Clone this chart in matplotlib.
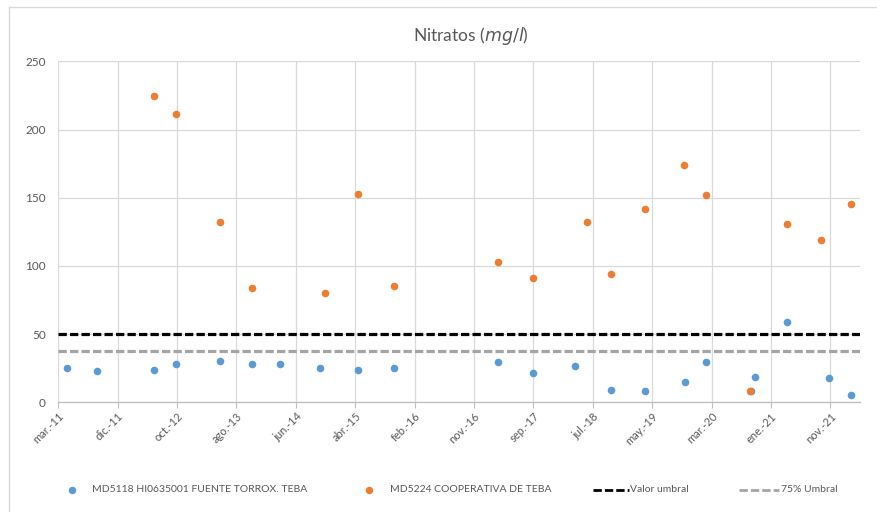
import matplotlib
matplotlib.use("Agg")
import matplotlib.pyplot as plt
import matplotlib.dates as mdates
from matplotlib.lines import Line2D
import numpy as np
import datetime as dt

plt.rcParams['font.family'] = ['Lato', 'DejaVu Sans']

# ---- data ----
blue_dates = ["2011-04-12", "2011-09-12", "2012-06-25", "2012-10-17", "2013-05-27",
              "2013-11-05", "2014-03-26", "2014-10-14", "2015-04-21", "2015-10-21",
              "2017-03-30", "2017-09-23", "2018-04-25", "2018-10-24", "2019-04-10",
              "2019-10-31", "2020-02-14", "2020-09-28", "2020-10-20", "2021-03-27",
              "2021-10-28", "2022-02-17"]
blue_values = [25, 23.2, 24, 28.1, 30.1, 28.1, 28.1, 24.9, 23.7, 24.9,
               29.6, 21.5, 26.4, 8.8, 8.3, 15.2, 29.6, 8.3, 18.6, 59.1,
               17.6, 5.6]

orange_dates = ["2012-06-25", "2012-10-17", "2013-05-27", "2013-11-05", "2014-11-07",
                "2015-04-21", "2015-10-21", "2017-03-30", "2017-09-23", "2018-06-21",
                "2018-10-24", "2019-04-10", "2019-10-26", "2020-02-14", "2020-09-25",
                "2021-03-27", "2021-09-18", "2022-02-17"]
orange_values = [224.8, 211.6, 132, 84.1, 80.2, 153, 85, 103.1, 91.2, 132.2,
                 94.1, 142, 174, 152, 8.1, 131, 119.3, 145.2]

threshold = 50
threshold_75 = 37.5

tick_labels = ["mar.-11", "dic.-11", "oct.-12", "ago.-13", "jun.-14", "abr.-15",
               "feb.-16", "nov.-16", "sep.-17", "jul.-18", "may.-19", "mar.-20",
               "ene.-21", "nov.-21"]
axis_start = "2011-03-01"
axis_end = "2022-04-02"
tick_step_days = 300

series_names = ["MD5118 HI0635001 FUENTE TORROX. TEBA", "MD5224 COOPERATIVA DE TEBA",
                "Valor umbral", "75% Umbral"]

# ---- figure ----
W, H = 878, 512
fig = plt.figure(figsize=(W/100, H/100), dpi=100)
ax = fig.add_axes([58.3/W, 1-402.3/H, (860-58.3)/W, (402.3-61.3)/H])

to_num = lambda lst: mdates.date2num([dt.datetime.strptime(d, "%Y-%m-%d") for d in lst])
bx = to_num(blue_dates)
ox = to_num(orange_dates)
x0 = to_num([axis_start])[0]
x1 = to_num([axis_end])[0]

blue = '#5B9BD5'
orange = '#ED7D31'
grey = '#A5A5A5'
DASH = (2.6, 1.0)

ax.scatter(bx, blue_values, s=30, color=blue, zorder=3, linewidths=0)
ax.scatter(ox, orange_values, s=30, color=orange, zorder=4, linewidths=0)
ax.axhline(threshold, color='black', lw=2.3, dashes=DASH, zorder=2)
ax.axhline(threshold_75, color=grey, lw=2.3, dashes=DASH, zorder=2)

ticks = x0 + np.arange(len(tick_labels)) * tick_step_days
ax.set_xlim(x0, x1)
ax.set_ylim(0, 250)
ax.set_xticks(ticks)
ax.set_xticklabels(tick_labels, rotation=45, ha='right', rotation_mode='anchor')
ax.set_yticks(np.arange(0, 251, 50))

ax.grid(True, color='#D9D9D9', lw=0.9)
ax.set_axisbelow(True)
for s in ['top', 'right', 'left']:
    ax.spines[s].set_visible(False)
ax.spines['bottom'].set_color('#BFBFBF')
ax.spines['bottom'].set_linewidth(0.9)
ax.tick_params(axis='x', colors='#595959', labelsize=8, length=4, color='#BFBFBF', pad=2)
ax.tick_params(axis='y', colors='#595959', labelsize=8.5, length=0, pad=9)

fig.text(471/W, 1-36/H, "Nitratos ($\\mathit{mg/l}$)", ha='center', va='center',
         fontsize=12.5, color='#595959')

# ---- legend (manually laid out like the Excel legend) ----
ly = 1 - 490/H
fx = lambda px: px / W
fig.add_artist(Line2D([fx(72)], [ly], marker='o', ls='none', color=blue, markersize=5.4,
                      markeredgewidth=0, transform=fig.transFigure))
fig.add_artist(Line2D([fx(369)], [ly], marker='o', ls='none', color=orange, markersize=5.4,
                      markeredgewidth=0, transform=fig.transFigure))
fig.add_artist(Line2D([fx(593), fx(629)], [ly, ly], color='black', lw=2.0, dashes=(3.0, 1.1),
                      transform=fig.transFigure))
fig.add_artist(Line2D([fx(739), fx(779)], [ly, ly], color=grey, lw=2.0, dashes=(3.0, 1.1),
                      transform=fig.transFigure))
for xs, name in zip([92.5, 390, 630.5, 781], series_names):
    fig.text(fx(xs), ly, name, ha='left', va='center', fontsize=7.5, color='#595959')

# chart border (partially visible)
fig.add_artist(Line2D([9.5/W, 9.5/W], [0, 1-7/H], color='#D9D9D9', lw=1,
                      transform=fig.transFigure))
fig.add_artist(Line2D([9.5/W, 1], [1-7/H, 1-7/H], color='#D9D9D9', lw=1,
                      transform=fig.transFigure))

fig.savefig("out.png", dpi=100, facecolor='white')
